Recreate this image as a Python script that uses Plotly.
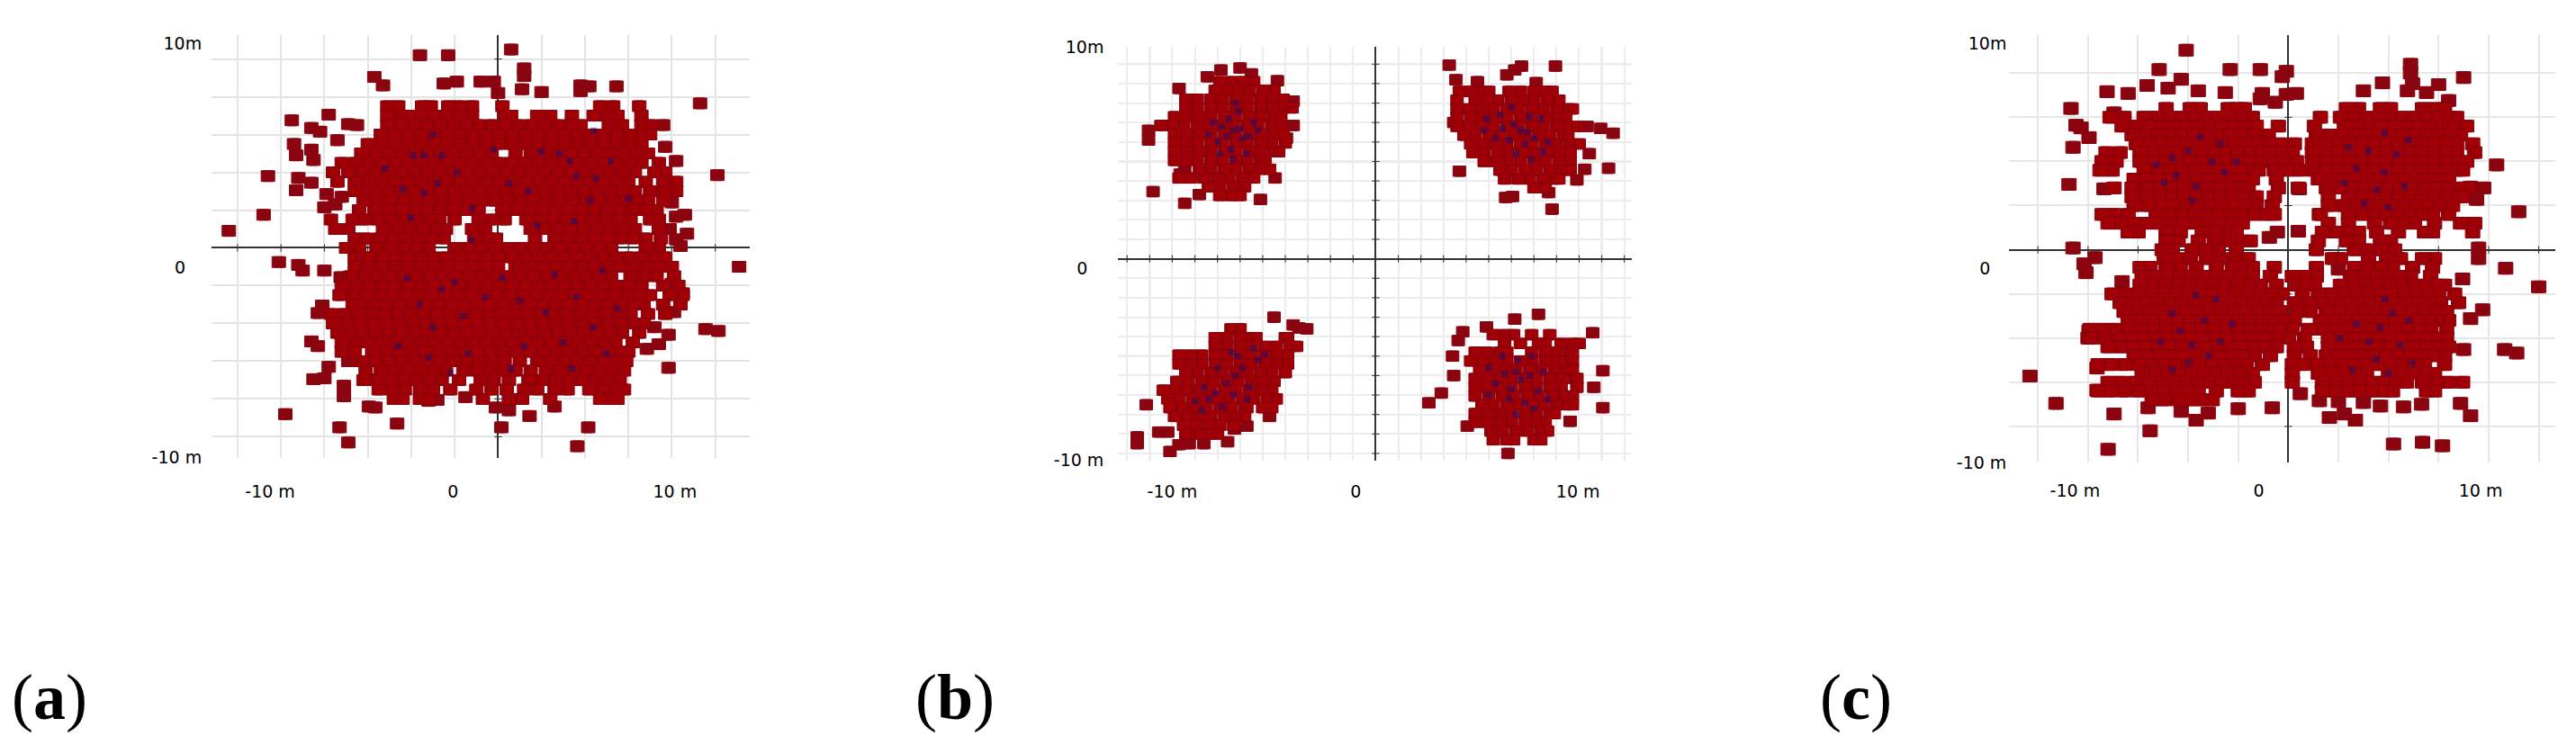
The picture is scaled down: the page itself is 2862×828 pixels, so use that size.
import plotly.graph_objects as go

# ---------- values (metres) ----------
a_rows = [
 (7.5,[-5.1,-4.6,-3.5,-3.1,-2.3,-1.8,-1.2,0.2,4.7,5.3,6.5]),
 (7.0,[-5.1,-4.5,-4.1,-3.6,-3.0,-2.4,-1.8,-1.2,0.3,0.6,1.8,2.4,3.4,4.4,5.0,5.5,6.6]),
 (6.5,[-5.1,-4.5,-3.9,-3.3,-2.7,-2.1,-1.5,-0.9,-0.3,0.3,0.9,1.5,2.1,2.7,3.3,3.8,5.1,5.7,6.6,7.0]),
 (6.0,[-5.4,-4.8,-4.2,-3.6,-3.0,-2.4,-1.8,-1.2,-0.6,0.0,0.6,1.2,1.8,2.4,3.0,3.6,4.2,4.8,5.4,6.0,6.6,7.0]),
 (5.5,[-6.0,-5.4,-4.8,-4.2,-3.6,-3.0,-2.4,-1.8,-1.2,-0.6,0.0,0.6,1.2,1.8,2.4,3.0,3.6,4.2,4.8,5.4,6.0,6.6]),
 (5.0,[-6.3,-5.7,-5.1,-4.5,-3.9,-3.3,-2.7,-2.1,-1.5,-0.9,-0.3,0.8,1.5,2.1,2.7,3.3,3.9,4.5,5.1,5.7,6.3,6.9]),
 (4.5,[-7.2,-6.6,-6.0,-5.4,-4.8,-4.2,-3.6,-3.0,-2.4,-1.8,-1.2,-0.6,0.0,0.6,1.2,1.8,2.4,3.0,3.6,4.2,4.8,5.4,6.0,6.6,7.4]),
 (4.0,[-7.6,-6.9,-6.3,-5.7,-5.1,-4.5,-3.9,-3.3,-2.7,-2.1,-1.5,-0.9,-0.3,0.3,0.9,1.5,2.1,2.7,3.3,3.9,4.5,5.1,5.7,6.3,7.2,7.7]),
 (3.5,[-7.4,-6.6,-6.0,-5.4,-4.8,-4.2,-3.6,-3.0,-2.4,-1.8,-1.2,-0.6,0.0,0.6,1.2,1.8,2.4,3.0,3.6,4.2,4.8,5.4,6.0,6.8,7.6,8.2]),
 (3.0,[-6.6,-6.1,-5.7,-5.1,-4.5,-3.9,-3.3,-2.7,-2.1,-1.5,-0.9,-0.3,0.3,0.9,1.5,2.1,2.7,3.3,3.9,4.5,5.1,5.7,6.3,7.0,7.6,8.2]),
 (2.5,[-6.2,-5.6,-5.0,-4.4,-3.8,-3.2,-2.6,-2.0,-1.4,-0.8,-0.2,0.4,1.0,1.6,2.2,2.8,3.4,4.0,4.6,5.2,5.8,6.4,6.9,7.6]),
 (2.0,[-6.4,-5.7,-5.1,-4.5,-3.9,-3.3,-2.7,-2.1,-1.5,-0.9,0.2,0.8,1.4,2.0,2.6,3.2,3.8,4.4,5.0,5.6,6.2,6.8,7.3]),
 (1.5,[-7.7,-6.7,-6.2,-5.6,-5.0,-4.4,-3.8,-3.2,-2.7,-2.0,-0.9,-0.3,0.3,1.3,1.9,2.5,3.1,3.7,4.3,4.9,5.5,6.1,7.0,7.4]),
 (1.0,[-7.5,-6.9,-5.3,-4.7,-4.1,-3.5,-2.9,-2.4,-1.2,-0.6,1.5,2.1,2.7,3.3,3.9,4.5,5.1,5.7,6.3,7.4]),
 (0.5,[-6.6,-6.1,-5.5,-4.9,-4.3,-3.7,-3.1,-2.5,-1.1,-0.5,-0.1,1.7,2.6,3.2,3.8,4.4,5.0,5.6,6.2,6.8,7.5]),
 (0.0,[-7.0,-6.4,-5.6,-5.0,-4.4,-3.8,-3.2,-2.0,-1.4,-0.8,-0.2,0.4,1.0,1.6,2.2,2.8,3.4,4.0,4.6,5.2,6.8,7.4]),
 (-0.5,[-6.6,-6.0,-5.4,-4.8,-4.2,-3.6,-3.0,-2.4,-1.8,-1.2,-0.6,0.0,0.6,1.2,1.8,2.4,3.0,3.6,4.2,4.8,5.4,6.0,6.6,7.2,7.7]),
 (-1.0,[-6.6,-6.0,-5.4,-4.8,-4.2,-3.6,-3.0,-2.4,-1.8,-1.2,-0.6,0.0,0.8,1.4,2.0,2.6,3.2,3.8,4.4,5.0,5.6,6.2,6.8,7.4,8.0]),
 (-1.5,[-6.8,-6.2,-5.6,-5.0,-4.4,-3.8,-3.2,-2.6,-2.0,-1.4,-0.8,-0.2,0.4,1.0,1.6,2.2,2.8,3.4,4.0,4.6,5.2,6.1,6.7,7.3,8.1]),
 (-2.0,[-7.2,-6.6,-6.0,-5.4,-4.8,-4.2,-3.6,-3.0,-2.4,-1.8,-1.2,-0.6,0.0,0.6,1.2,1.8,2.4,3.0,3.6,4.2,4.8,5.4,6.0,6.6,7.6,8.3]),
 (-2.5,[-7.3,-6.7,-6.1,-5.5,-4.9,-4.3,-3.7,-3.1,-2.5,-1.9,-1.3,-0.7,-0.1,0.5,1.1,1.7,2.3,2.9,3.5,4.1,4.7,5.3,5.9,6.5,7.0,7.9,8.5]),
 (-3.0,[-6.7,-6.4,-5.8,-5.2,-4.6,-4.0,-3.4,-2.8,-2.2,-1.6,-1.0,-0.4,0.2,0.8,1.4,2.0,2.6,3.2,3.8,4.4,5.0,5.6,6.2,6.7,7.6,8.4]),
 (-3.5,[-7.7,-7.1,-6.5,-5.9,-5.3,-4.7,-4.1,-3.5,-2.9,-2.3,-1.7,-1.1,-0.5,0.1,0.7,1.3,1.9,2.5,3.1,3.7,4.3,4.9,5.5,6.1,6.9,7.7]),
 (-4.0,[-7.6,-7.0,-6.4,-5.8,-5.2,-4.6,-4.0,-3.4,-2.8,-2.2,-1.6,-1.0,-0.4,0.2,0.8,1.4,2.0,2.6,3.2,3.8,4.4,5.0,5.6,6.2,6.7]),
 (-4.5,[-7.4,-6.9,-6.3,-5.7,-5.1,-4.5,-3.9,-3.3,-2.7,-2.1,-1.5,-0.9,-0.3,0.3,0.9,1.5,2.1,2.7,3.3,3.9,4.5,5.1,5.7,6.5]),
 (-5.0,[-7.2,-6.6,-6.0,-5.4,-4.8,-4.2,-3.6,-3.0,-2.4,-1.8,-1.2,-0.6,0.0,0.6,1.2,1.8,2.4,3.0,3.6,4.2,4.8,5.4,6.2]),
 (-5.5,[-7.2,-6.6,-5.8,-5.2,-4.6,-4.0,-3.4,-2.8,-2.2,-1.6,-1.0,-0.4,0.2,0.8,1.4,2.0,2.6,3.2,3.8,4.4,5.0,5.6,6.0]),
 (-6.0,[-6.3,-5.7,-5.1,-4.5,-3.9,-3.3,-2.7,-2.1,-1.5,-0.9,-0.3,0.3,1.0,1.8,2.4,3.0,3.6,4.2,4.8,5.4,5.9]),
 (-6.5,[-6.1,-5.4,-4.8,-4.2,-3.6,-3.0,-2.4,-1.6,-1.0,-0.4,0.2,0.8,1.5,2.2,2.8,3.4,4.0,4.6,5.2,5.8]),
 (-7.0,[-6.2,-5.6,-5.0,-4.4,-3.8,-3.2,-2.6,-1.8,-0.8,-0.2,0.5,1.4,2.0,2.6,3.2,3.8,4.4,5.0,5.6]),
 (-7.5,[-5.5,-4.9,-4.3,-3.6,-3.0,-2.2,-1.0,-0.3,0.4,1.2,1.8,2.6,3.2,4.2,4.8,5.4,5.8]),
 (-8.0,[-4.8,-4.4,-3.6,-3.2,-0.7,0.5,1.1,2.4,4.7,5.2,5.5]),
]
a_out = [(-3.6,10.2),(-2.3,10.2),(0.6,10.5),(1.2,9.5),(1.2,9.1),(-5.7,9.05),(-5.3,8.6),(-2.5,8.7),(-1.9,8.8),
 (-0.8,8.8),(-0.2,8.8),(1.1,8.4),(2.0,8.25),(3.8,8.6),(4.2,8.55),(3.8,8.3),(5.45,8.55),(0.0,8.2),(9.3,7.65),
 (-7.8,7.05),(-9.5,6.75),(-8.6,6.35),(-8.2,6.15),(-6.9,6.55),(-6.5,6.5),(7.6,6.5),(-9.4,5.5),(-8.6,5.2),(-9.3,4.9),
 (-8.5,4.65),(-7.4,5.7),(7.7,5.35),(8.2,4.6),(-10.6,3.8),(10.1,3.85),(-9.2,3.7),(-8.6,3.45),(-9.3,3.05),(-7.9,2.85),
 (-7.2,2.7),(-8.0,2.15),(-7.5,2.3),(-10.8,1.75),(-12.4,0.9),(8.6,1.75),(8.2,1.65),(8.0,2.4),(8.7,0.75),(8.2,0.45),
 (-10.1,-0.75),(-9.2,-0.9),(-9.0,-1.2),(11.1,-1.0),(-8.0,-1.2),(-7.25,-1.55),(9.55,-4.3),(10.15,-4.4),(7.85,-4.6),
 (7.85,-6.35),(7.4,-5.1),(6.85,-5.35),(-8.1,-3.05),(-8.3,-3.45),(-8.6,-4.95),(-8.3,-5.2),(-7.8,-6.3),(-8.5,-6.95),
 (-8.0,-6.9),(-7.1,-7.3),(-7.1,-7.85),(-5.95,-8.4),(-5.65,-8.45),(-9.8,-8.8),(-7.3,-9.5),(-4.65,-9.3),(-6.9,-10.3),
 (-1.5,-7.9),(-3.2,-8.1),(-2.8,-8.05),(-0.1,-8.45),(0.5,-8.6),(1.45,-8.9),(2.6,-8.4),(0.15,-9.5),(4.15,-9.5),(3.65,-10.5),
 (8.5,-2.4),(8.1,-3.4),(8.0,-1.9),(7.2,-4.2),(-6.9,-6.0),(-5.9,-6.95),(8.4,0.1),(7.9,1.0)]
a_navy = [(-3.9,4.9),(-3.4,4.9),(-2.6,4.9),(-1.9,4.0),(-2.8,3.4),(-4.4,3.1),(-0.2,5.2),(2.0,5.1),(2.8,5.0),(3.3,4.6),
 (3.6,3.8),(4.5,3.7),(1.4,3.0),(-3.4,2.9),(-1.2,2.1),(-4.0,1.6),(3.5,1.4),(4.2,2.5),(5.2,4.6),(0.5,3.4),
 (-2.6,-2.2),(-3.6,-3.0),(-2.0,-1.8),(-1.6,-3.6),(-3.0,-4.2),(-0.6,-2.6),(1.0,-2.8),(2.2,-3.4),(3.6,-2.6),(5.5,-3.2),
 (4.4,-4.2),(3.0,-5.0),(1.2,-5.2),(-1.4,-5.6),(-3.2,-5.8),(-4.2,-1.6),(4.8,-1.2),(2.6,-1.4),(0.2,-1.6),(-1.2,0.4),
 (-4.6,-5.2),(5.0,-5.6),(3.4,-6.4),(-2.2,-6.6),(0.6,-6.4),(-5.2,4.2),(6.0,2.6),(1.8,1.2),(-3.0,6.0),(4.4,6.2)]

b_rows = [
 (9.1,[-6.9,-6.4,-5.9,-5.4]),(8.65,[-7.1,-6.6,-6.1,-5.6,-5.0,-4.5]),
 (8.2,[-8.4,-7.9,-7.3,-6.8,-6.2,-5.7,-5.1,-4.6,-4.1]),(7.75,[-8.4,-7.9,-7.3,-6.8,-6.2,-5.7,-5.1,-4.6,-4.1,-3.7]),
 (7.3,[-8.9,-8.4,-7.8,-7.3,-6.7,-6.2,-5.6,-5.1,-4.5,-4.2]),(6.85,[-9.5,-9.0,-8.5,-7.9,-7.4,-6.8,-6.3,-5.7,-5.2,-4.6,-4.2]),
 (6.4,[-8.9,-8.4,-7.8,-7.3,-6.7,-6.2,-5.6,-5.1,-4.5,-4.1]),(5.95,[-8.9,-8.4,-7.9,-7.3,-6.8,-6.2,-5.7,-5.1,-4.6,-4.0]),
 (5.5,[-8.9,-8.4,-7.8,-7.3,-6.7,-6.2,-5.6,-5.1,-4.5,-4.3]),(5.05,[-8.9,-8.4,-7.9,-7.3,-6.8,-6.2,-5.7,-5.1,-4.9]),
 (4.6,[-7.8,-7.3,-6.7,-6.2,-5.6,-5.1,-4.7]),(4.15,[-8.7,-8.2,-7.6,-7.0,-6.5,-5.9,-5.4]),
 (3.7,[-7.4,-6.9,-6.3,-5.8]),(3.25,[-6.9,-6.4,-6.0]),
 (8.6,[3.7,4.2,4.7,5.0,5.9,6.4,7.0,7.5,7.8]),(8.15,[3.6,4.4,4.9,5.4,6.0,6.5,7.0,7.6,8.1]),
 (7.7,[3.6,4.1,4.7,5.2,5.8,6.3,6.9,7.4,8.0,8.5,8.7]),(7.25,[3.6,4.2,4.7,5.3,5.8,6.4,6.9,7.5,8.0,8.4]),
 (6.8,[3.6,4.1,4.7,5.2,5.8,6.3,6.9,7.4,8.0,8.5,8.9]),(6.35,[3.9,4.4,5.0,5.5,6.1,6.6,7.2,7.7,8.3,8.5]),
 (5.9,[4.2,4.7,5.3,5.8,6.4,6.9,7.5,8.0,8.6,9.0]),(5.45,[4.3,4.8,5.4,5.9,6.5,7.0,7.6,8.1,8.6]),
 (5.0,[4.8,5.3,5.9,6.4,7.0,7.5,8.1,8.6]),(4.55,[5.5,6.0,6.6,7.1,7.7,8.2,8.6]),
 (4.1,[5.7,6.3,6.8,7.4,7.9,8.1]),(3.65,[7.0,7.5]),
 (-3.6,[-6.4,-6.0]),(-4.05,[-7.1,-6.6,-6.0,-5.5,-5.3,-4.0,-3.9]),(-4.5,[-7.1,-6.6,-6.0,-5.5,-4.9,-4.4,-3.8,-3.5]),
 (-4.95,[-8.7,-8.2,-7.7,-7.1,-6.6,-6.0,-5.5,-4.9,-4.4,-3.9]),(-5.4,[-8.7,-8.2,-7.7,-7.1,-6.6,-6.0,-5.5,-4.9,-4.4,-3.9]),
 (-5.85,[-8.4,-7.9,-7.3,-6.8,-6.2,-5.7,-5.1,-4.6,-4.0]),(-6.3,[-8.8,-8.3,-7.7,-7.2,-6.6,-6.1,-5.5,-5.0,-4.5]),
 (-6.75,[-9.4,-8.9,-8.4,-7.8,-7.3,-6.7,-6.2,-5.6,-5.1,-4.6]),(-7.2,[-9.2,-8.7,-8.1,-7.6,-7.0,-6.5,-5.9,-5.4,-4.8,-4.4]),
 (-7.65,[-9.1,-8.6,-8.0,-7.5,-6.9,-6.4,-5.8,-5.7,-5.0,-4.6]),(-8.1,[-8.9,-8.4,-7.8,-7.3,-6.7,-6.2,-5.8]),
 (-8.55,[-8.5,-8.0,-7.4,-6.9,-6.3]),(-9.0,[-8.4,-7.8,-7.3,-7.0]),
 (-3.9,[5.2,5.7,6.1,6.9,7.7]),(-4.35,[5.7,6.4,7.2,7.5,8.2,8.7,9.0]),
 (-4.8,[4.4,4.9,5.5,5.8,6.9,7.5,8.0,8.6,8.7]),(-5.25,[4.2,4.7,5.3,5.8,6.4,6.9,7.5,8.0,8.6,8.7]),
 (-5.7,[4.6,5.1,5.7,6.2,6.8,7.3,7.9,8.4,8.7]),(-6.15,[4.4,4.9,5.5,6.0,6.6,7.1,7.7,8.2,8.8,8.9]),
 (-6.6,[4.4,4.9,5.5,6.0,6.6,7.1,7.7,8.2,8.9]),(-7.05,[4.4,5.0,5.6,6.1,6.7,7.2,7.8,8.3,8.7]),
 (-7.5,[4.7,5.2,5.8,6.3,6.9,7.4,8.0,8.5,8.7]),(-7.95,[4.4,4.9,5.5,6.0,6.6,7.1,7.7,7.9]),
 (-8.4,[4.4,4.9,5.5,6.0,6.6,7.1,7.5]),(-8.85,[5.1,5.6,6.2,6.7,7.3,7.6]),(-9.3,[5.2,5.8,6.1,7.0,7.3]),
]
b_out = [(-6.85,9.7),(-6.0,9.8),(-7.45,9.35),(-5.5,9.5),(-4.35,9.15),(-8.7,8.75),(-9.85,3.45),(-8.45,2.85),(-5.1,3.05),
 (-7.8,3.3),(-4.45,4.15),(-10.05,6.6),(-10.05,6.1),(-3.65,8.1),(-3.65,6.85),(-3.95,6.2),(-8.65,4.35),(-8.45,4.5),
 (3.25,9.95),(3.55,9.2),(4.5,9.1),(5.8,9.45),(6.15,9.7),(6.45,9.9),(7.95,9.9),(7.1,9.05),(10.5,6.45),(9.95,6.7),
 (9.35,6.8),(9.45,5.4),(10.3,4.65),(3.7,4.5),(5.75,3.15),(6.05,3.2),(7.65,3.4),(7.8,2.55),(8.9,4.05),(9.25,4.6),(3.45,7.0),
 (-4.5,-3.0),(-3.65,-3.4),(-3.05,-3.6),(-3.4,-3.55),(-10.15,-7.5),(-10.55,-9.15),(-10.55,-9.5),(-9.1,-9.9),(-8.7,-9.55),
 (-9.6,-8.9),(-9.2,-8.9),(-6.55,-9.4),(-7.6,-9.5),(-8.25,-9.5),(-4.7,-8.1),(-5.7,-8.6),(-6.25,-8.75),
 (7.2,-2.85),(6.15,-3.1),(9.6,-3.8),(3.85,-3.75),(3.65,-4.2),(4.9,-3.5),(10.05,-5.75),(10.05,-7.65),(3.4,-5.0),(3.45,-6.0),
 (2.9,-6.9),(2.35,-7.4),(4.05,-8.6),(5.85,-10.0),(7.15,-9.25),(8.6,-8.35),(9.65,-6.6)]
b_navy = [(-6.3,6.6),(-6.0,6.7),(-6.6,6.3),(-5.9,6.2),(-6.5,7.2),(-6.1,7.6),(-5.4,7.0),(-7.0,6.0),(-6.4,5.6),(-5.7,5.4),(-7.2,7.0),(-6.8,6.8),(-5.6,6.3),(-6.3,5.1),(-6.9,5.4),(-5.2,6.6),(-7.4,6.4),(-6.2,8.0),
 (6.4,6.6),(6.7,6.5),(6.1,6.9),(5.6,6.7),(7.0,6.2),(6.6,5.9),(5.9,6.1),(7.3,7.2),(6.8,7.3),(5.5,7.4),(4.9,7.2),(7.6,6.0),(6.2,5.4),(6.9,5.1),(7.4,5.5),(5.3,6.2),(4.8,6.6),(6.0,7.8),
 (-6.2,-6.0),(-6.6,-6.4),(-5.9,-5.6),(-6.1,-5.0),(-7.1,-6.9),(-7.4,-7.2),(-6.8,-7.6),(-7.7,-7.8),(-5.6,-6.6),(-5.2,-5.2),(-4.9,-4.9),(-6.4,-4.8),(-7.0,-5.6),(-5.4,-4.6),(-7.6,-6.6),(-6.3,-7.0),(-8.0,-7.3),(-5.7,-7.2),
 (6.2,-5.8),(6.4,-6.2),(6.0,-6.7),(6.8,-6.0),(6.3,-5.2),(5.7,-5.9),(5.3,-6.4),(5.9,-7.2),(6.6,-7.4),(7.2,-6.8),(7.4,-5.8),(6.9,-5.0),(5.6,-5.0),(5.0,-7.0),(6.2,-8.0),(7.0,-7.7),(7.6,-7.2),(5.0,-5.6)]

c_rows = [
 (8.0,[-6.1,-4.9,-4.4,-3.0,-2.6,-2.2,2.9,3.5,4.6,5.1,6.7,7.3,7.8]),
 (7.5,[-8.9,-8.2,-7.2,-6.6,-6.0,-5.4,-4.8,-4.2,-3.6,-3.0,-2.4,-1.8,1.6,2.6,3.2,3.8,4.4,5.0,5.6,6.2,6.8,7.4,8.0,8.4]),
 (7.0,[-8.3,-7.7,-7.0,-6.4,-5.8,-5.2,-4.6,-4.0,-3.4,-2.8,-2.2,-1.6,-0.5,1.3,2.8,3.4,4.0,4.6,5.2,5.8,6.4,7.0,7.6,8.2,8.9]),
 (6.5,[-7.8,-7.2,-6.6,-6.0,-5.4,-4.8,-4.2,-3.6,-3.0,-2.4,-1.8,-1.2,-1.0,1.4,2.0,2.6,3.2,3.8,4.4,5.0,5.6,6.2,6.8,7.4,8.0,8.6]),
 (6.0,[-7.6,-7.0,-6.4,-5.8,-5.2,-4.6,-4.0,-3.4,-2.8,-2.2,-1.6,-1.0,-0.4,0.3,1.2,1.8,2.4,3.0,3.6,4.2,4.8,5.4,6.0,6.6,7.2,7.8,8.4,9.2]),
 (5.5,[-9.1,-8.4,-7.4,-6.8,-6.2,-5.6,-5.0,-4.4,-3.8,-3.2,-2.6,-2.0,-1.4,-0.8,-0.4,0.2,1.2,1.8,2.4,3.0,3.6,4.2,4.8,5.4,6.0,6.6,7.2,7.8,8.4,9.3]),
 (5.0,[-9.3,-8.6,-7.4,-6.8,-6.2,-5.6,-5.0,-4.4,-3.8,-3.2,-2.6,-2.0,-1.4,-0.8,-0.3,0.4,1.2,1.8,2.4,3.0,3.6,4.2,4.8,5.4,6.0,6.6,7.2,7.8,8.4,8.9]),
 (4.5,[-9.4,-8.8,-7.2,-6.6,-6.0,-5.4,-4.8,-4.2,-3.6,-3.0,-2.4,-1.8,-1.5,-0.7,-0.1,0.5,1.2,1.8,2.4,3.0,3.6,4.2,4.8,5.4,6.0,6.6,7.2,7.8,8.4,8.7]),
 (4.0,[-7.7,-7.1,-6.5,-5.9,-5.3,-4.7,-4.1,-3.5,-2.9,-2.3,-1.8,-0.6,1.5,2.1,2.7,3.3,3.9,4.5,5.1,5.7,6.3,6.9,7.5,8.0]),
 (3.5,[-8.7,-7.8,-7.1,-6.5,-5.9,-5.3,-4.7,-4.1,-3.5,-2.9,-2.3,-2.0,-0.5,0.5,1.9,2.5,3.1,3.7,4.3,4.9,5.5,6.1,6.7,7.3,7.9,8.5,9.0]),
 (3.0,[-7.8,-7.1,-6.5,-5.9,-5.3,-4.7,-4.1,-3.5,-2.9,-2.3,-1.6,-0.7,2.0,3.0,3.6,4.2,4.8,5.4,6.0,6.6,7.2,7.8,8.4,8.7]),
 (2.5,[-7.7,-7.0,-6.4,-5.8,-5.2,-4.6,-4.0,-3.4,-2.8,-2.2,-1.6,-0.8,2.0,2.7,3.3,3.9,4.5,5.1,5.7,6.3,6.9,7.5,8.2]),
 (2.0,[-9.3,-8.7,-8.0,-6.6,-6.0,-5.4,-4.8,-4.2,-3.6,-3.0,-2.4,-1.8,-1.2,-0.7,1.6,3.0,3.6,4.2,4.8,5.4,6.0,6.6,7.2,8.0]),
 (1.5,[-9.0,-8.4,-7.8,-7.1,-6.5,-5.9,-5.3,-4.7,-4.1,-3.5,-2.9,-2.3,2.0,3.0,4.3,5.1,5.7,6.3,7.3,8.6,9.3]),
 (1.0,[-8.0,-7.5,-6.1,-5.4,-4.3,-3.7,-3.0,-2.6,1.7,2.4,3.0,3.5,4.4,5.5,6.8,7.2,9.2]),
 (0.5,[-6.1,-5.5,-4.5,-3.7,-3.0,-2.4,-1.9,1.5,2.9,3.5,4.6,5.1]),
 (0.0,[-6.3,-5.8,-4.8,-4.2,-3.5,-2.6,1.4,3.3,3.9,4.6,5.3]),
 (-0.5,[-6.2,-5.6,-4.9,-4.1,-3.4,-2.7,-2.0,2.2,2.6,4.0,4.9,5.6,6.7,7.3]),
 (-1.0,[-7.4,-6.9,-6.1,-5.4,-4.6,-3.6,-2.8,-2.2,-1.8,-0.7,1.4,3.3,3.9,4.6,5.2,6.2,7.2]),
 (-1.5,[-7.3,-6.7,-6.1,-5.5,-4.9,-4.3,-3.7,-3.1,-2.5,-1.8,-0.9,0.2,0.8,1.4,3.1,3.7,4.3,4.9,5.5,6.1,7.1]),
 (-2.0,[-7.4,-6.8,-6.2,-5.6,-5.0,-4.4,-3.8,-3.2,-2.6,-2.0,-1.4,-0.6,0.4,0.8,1.3,2.6,3.2,3.8,4.4,5.0,5.6,6.2,6.8,7.4,7.8]),
 (-2.5,[-8.8,-8.2,-7.5,-6.9,-6.3,-5.7,-5.1,-4.5,-3.9,-3.3,-2.7,-2.1,-1.5,-0.9,-0.3,0.7,1.5,2.1,2.7,3.3,3.9,4.5,5.1,5.7,6.3,6.9,7.5,8.3]),
 (-3.0,[-8.4,-7.8,-7.2,-6.6,-6.0,-5.4,-4.8,-4.2,-3.6,-3.0,-2.4,-1.8,-1.2,-0.6,0.3,1.0,1.6,2.2,2.8,3.4,4.0,4.6,5.2,5.8,6.4,7.0,7.6,8.5]),
 (-3.5,[-8.2,-7.6,-7.0,-6.4,-5.8,-5.2,-4.6,-4.0,-3.4,-2.8,-2.2,-1.6,-1.0,-0.4,0.4,1.1,1.9,2.5,3.1,3.7,4.3,4.9,5.5,6.1,6.7,7.3,7.9]),
 (-4.0,[-8.0,-7.4,-6.8,-6.2,-5.6,-5.0,-4.4,-3.8,-3.2,-2.6,-2.0,-1.4,-0.8,-0.3,0.3,1.6,2.2,2.8,3.4,4.0,4.6,5.2,5.8,6.4,7.0,7.6,8.0]),
 (-4.5,[-9.9,-9.3,-8.7,-8.0,-7.4,-6.8,-6.2,-5.6,-5.0,-4.4,-3.8,-3.2,-2.6,-2.0,-1.4,-0.8,-0.5,0.2,1.0,1.7,2.3,2.9,3.5,4.1,4.7,5.3,5.9,6.5,7.1,7.9]),
 (-5.0,[-9.9,-9.2,-8.5,-7.9,-7.3,-6.7,-6.1,-5.5,-4.9,-4.3,-3.7,-3.1,-2.5,-1.9,-1.3,-0.6,0.0,0.8,2.0,2.6,3.2,3.8,4.4,5.0,5.6,6.2,6.8,7.4,7.9]),
 (-5.5,[-9.0,-8.4,-7.8,-7.2,-6.6,-6.0,-5.4,-4.8,-4.2,-3.6,-3.0,-2.4,-1.8,-1.2,-0.6,0.3,0.9,2.0,2.6,3.2,3.8,4.4,5.0,5.6,6.2,6.8,7.4,8.0]),
 (-6.0,[-7.7,-7.1,-6.5,-5.9,-5.3,-4.7,-4.1,-3.5,-2.9,-2.3,-1.7,-0.9,0.3,1.1,1.9,2.4,3.0,3.6,4.2,4.8,5.4,6.0,6.6,7.2,7.8]),
 (-6.5,[-9.5,-8.9,-8.2,-7.5,-6.9,-6.3,-5.7,-5.1,-4.5,-3.9,-3.3,-2.7,-2.1,-1.3,0.2,0.7,1.4,2.0,2.6,3.2,3.8,4.4,5.0,5.6,6.2,6.8,7.8]),
 (-7.0,[-7.3,-6.7,-6.1,-5.5,-4.9,-4.3,-3.7,-3.1,-2.5,-1.8,0.2,1.5,2.1,2.7,3.3,3.9,5.0,5.6,6.2,6.8,7.3]),
 (-7.5,[-9.0,-8.4,-7.7,-7.0,-6.4,-5.8,-5.2,-4.6,-4.0,-3.4,-2.8,-2.2,-1.7,0.2,1.7,2.3,2.9,3.5,4.1,4.7,5.3,5.9,6.7,7.4,8.0,8.7]),
 (-8.0,[-9.5,-8.9,-8.2,-7.5,-6.9,-6.3,-5.7,-5.1,-4.5,-3.6,-2.5,-2.0,1.7,2.3,2.9,3.5,4.1,4.7,5.2,6.9,7.3]),
 (-8.5,[-6.8,-6.2,-5.5,-4.9,-4.3,-3.8]),
]
c_out = [(-5.1,11.3),(-6.45,10.2),(-2.9,10.2),(-1.4,10.2),(-0.1,10.1),(-0.3,9.8),(-5.35,9.65),(-7.05,9.3),(-6.0,9.15),
 (-9.05,8.95),(-8.0,8.85),(-4.5,9.0),(-3.15,8.9),(-1.3,8.85),(-1.4,8.55),(-0.65,8.35),(-0.1,8.8),(0.4,8.85),(6.1,10.5),(6.1,10.0),
 (4.7,9.45),(3.75,9.0),(8.75,9.75),(7.5,9.35),(6.2,9.4),(5.95,9.0),(6.9,8.9),(8.0,8.45),(-10.85,8.0),(-10.6,7.05),(-10.35,6.9),
 (-9.95,6.35),(-10.75,5.8),(-8.7,7.75),(10.4,4.8),(-10.95,3.7),(-9.2,3.45),(11.5,2.15),(9.4,2.85),(9.75,3.5),(9.1,3.55),
 (-10.75,0.1),(-9.65,-0.45),(-10.2,-0.8),(-10.1,-1.3),(-8.3,-1.8),(10.85,-1.05),(9.5,0.1),(9.5,-0.5),(8.7,-1.65),(12.5,-2.1),
 (9.7,-3.4),(9.1,-3.9),(8.75,-5.65),(10.8,-5.65),(11.4,-5.85),(-12.9,-7.15),(-11.6,-8.7),(-8.7,-9.3),(-6.9,-10.25),(-9.0,-11.3),
 (5.25,-11.0),(6.7,-10.9),(7.7,-11.1),(2.05,-9.5),(2.8,-9.3),(3.35,-9.65),(8.6,-8.7),(9.1,-9.4),(-0.8,-8.95),(-2.5,-9.0),
 (-4.6,-9.65),(-4.0,-9.25),(-5.35,-9.15),(-7.0,-8.95),(0.6,-8.15),(1.55,-8.55),(2.5,-8.6),(3.75,-8.65),(4.6,-8.85),(5.75,-8.9),
 (6.65,-8.75),(-9.55,-6.7),(-9.55,-7.95),(-8.9,-7.95),(-9.95,-4.6),(-10.0,-5.0),(-0.95,0.7),(-0.55,1.0),(0.5,1.05),(1.55,2.0),
 (2.5,-1.1),(0.55,3.45),(0.4,4.6)]
c_navy = [(-5.0,5.6),(-4.4,6.4),(-3.8,5.0),(-5.6,4.2),(-4.6,3.6),(-3.2,4.4),(-6.2,3.8),(-4.8,2.8),(-3.4,6.0),(-2.6,5.0),(-5.8,5.2),(-6.6,4.8),
 (4.0,5.6),(4.8,4.4),(5.4,5.4),(3.4,4.6),(4.4,3.4),(5.8,3.6),(3.0,5.8),(6.0,6.2),(4.8,6.6),(3.8,2.6),(5.0,2.4),(2.8,3.8),
 (-5.4,-4.6),(-4.8,-5.4),(-5.8,-3.6),(-4.2,-4.0),(-3.4,-5.2),(-5.0,-6.4),(-3.6,-2.8),(-6.4,-5.2),(-4.6,-2.6),(-2.8,-4.2),(-5.8,-6.8),(-4.0,-6.0),
 (4.6,-4.4),(4.0,-5.2),(5.2,-3.6),(3.4,-4.2),(5.6,-5.4),(4.4,-6.2),(3.2,-6.8),(5.0,-7.0),(2.6,-5.0),(6.0,-4.0),(4.8,-2.8),(6.2,-6.4)]

a_gridx = [-12,-10,-8,-6,-4,-2,0,2,4,6,8,10]
a_gridy = [-10,-8,-6,-4,-2,0,2,4,6,8,10]
b_gridx = [-11,-10,-9,-8,-7,-6,-5,-4,-3,-2,-1,0,1,2,3,4,5,6,7,8,9,10,11]
b_gridy = [-10,-9,-8,-7,-6,-5,-4,-3,-2,-1,0,1,2,3,4,5,6,7,8,9,10]
b_dark = [-10,-5,5,10]
c_gridx = [-12.5,-10,-7.5,-5,-2.5,0,2.5,5,7.5,10,12.5]
c_gridy = [-10,-7.5,-5,-2.5,0,2.5,5,7.5,10]

x_labels = ["-10 m", "0", "10 m"]
y_labels = ["-10 m", "0\u00a0\u00a0\u00a0", "10m"]
captions = ["(<b>a</b>)", "(<b>b</b>)", "(<b>c</b>)"]

# ---------- layout (pixels of the 2862x828 page) ----------
W, H = 2862, 828
panels = [
 dict(rows=a_rows, out=a_out, navy=a_navy, gx=a_gridx, gy=a_gridy, dark=[],
      box=(235.2,833,28.6,510.5), xr=(-13.19,11.59), yr=(-11.1,11.27), xt=[-10.5,-2.08,8.14], yt=[-11.09,-1.06,10.8],
      mh=13, mw=16, xoff=24, yoff=10, gw=2, gc="#e4e4e4", cap=(11,784)),
 dict(rows=b_rows, out=b_out, navy=b_navy, gx=b_gridx, gy=b_gridy, dark=b_dark,
      box=(1242.4,1812.5,42.1,514), xr=(-11.39,11.31), yr=(-10.37,10.89), xt=[-9.0,-0.88,8.95], yt=[-10.36,-0.48,10.88],
      mh=12.5, mw=15, xoff=21, yoff=15, gw=1.5, gc="#ececec", cap=(1015,784)),
 dict(rows=c_rows, out=c_out, navy=c_navy, gx=c_gridx, gy=c_gridy, dark=[],
      box=(2232.4,2838.6,28.6,516.6), xr=(-13.93,13.31), yr=(-12.07,12.16), xt=[-10.65,-1.48,9.6], yt=[-12.05,-1.06,11.67],
      mh=14, mw=17, xoff=18, yoff=2, gw=2, gc="#e6e6e6", cap=(2020,784)),
]

fig = go.Figure()
layout = dict(width=W, height=H, margin=dict(l=0,r=0,t=0,b=0), paper_bgcolor="white", plot_bgcolor="white",
              showlegend=False, autosize=False, shapes=[], annotations=[])
tfont = dict(family="DejaVu Sans", size=19, color="#000000")

for i, p in enumerate(panels, start=1):
    sx = "" if i == 1 else str(i)
    x0, x1, y0, y1 = p["box"]
    layout["xaxis"+sx] = dict(domain=[x0/W, x1/W], range=list(p["xr"]), anchor="y"+sx, tickmode="array",
        tickvals=p["xt"], ticktext=x_labels, showgrid=False, zeroline=True, zerolinecolor="#333333", zerolinewidth=2,
        showline=False, ticks="", tickfont=tfont, ticklabelstandoff=p["xoff"], tickangle=0,
        minor=dict(tickmode="array", tickvals=p["gx"], showgrid=True, gridcolor=p["gc"], gridwidth=p["gw"], ticks=""))
    layout["yaxis"+sx] = dict(domain=[1-y1/H, 1-y0/H], range=list(p["yr"]), anchor="x"+sx, tickmode="array",
        tickvals=p["yt"], ticktext=y_labels, showgrid=False, zeroline=True, zerolinecolor="#333333", zerolinewidth=2,
        showline=False, ticks="", tickfont=tfont, ticklabelstandoff=p["yoff"],
        minor=dict(tickmode="array", tickvals=p["gy"], showgrid=True, gridcolor=p["gc"], gridwidth=p["gw"], ticks=""))
    for v in p["dark"]:
        layout["shapes"].append(dict(type="line", layer="below", xref="x"+sx, yref="y"+sx+" domain", x0=v, x1=v, y0=0, y1=1,
                                     line=dict(color="#d2d2d2", width=2)))
        layout["shapes"].append(dict(type="line", layer="below", xref="x"+sx+" domain", yref="y"+sx, x0=0, x1=1, y0=v, y1=v,
                                     line=dict(color="#d2d2d2", width=2)))
    xa, ya = "x"+sx, "y"+sx
    fig.add_trace(go.Scatter(x=p["gx"], y=[0]*len(p["gx"]), mode="markers", xaxis=xa, yaxis=ya, hoverinfo="skip",
                             marker=dict(symbol="line-ns", size=6, line=dict(color="#333333", width=1))))
    fig.add_trace(go.Scatter(x=[0]*len(p["gy"]), y=p["gy"], mode="markers", xaxis=xa, yaxis=ya, hoverinfo="skip",
                             marker=dict(symbol="line-ew", size=6, line=dict(color="#333333", width=1))))
    # the source markers are wider than tall: each point is drawn as two overlapping squares
    px_per_m = (x1 - x0) / (p["xr"][1] - p["xr"][0])
    shift = (p["mw"] - p["mh"]) / 2 / px_per_m
    ox = [q[0] for q in p["out"]]; oy = [q[1] for q in p["out"]]
    cx = [x for yv, xs in p["rows"] for x in xs]; cy = [yv for yv, xs in p["rows"] for x in xs]
    for s in (-shift, shift):
        fig.add_trace(go.Scatter(x=[v + s for v in ox], y=oy, mode="markers", xaxis=xa, yaxis=ya,
                                 marker=dict(symbol="square", size=p["mh"]-1, color="#8a0510", line=dict(color="#8a0510", width=1))))
    for s in (-shift, shift):
        fig.add_trace(go.Scatter(x=[v + s for v in cx], y=cy, mode="markers", xaxis=xa, yaxis=ya,
                                 marker=dict(symbol="square", size=p["mh"]-1, color="#a00006", line=dict(color="#86000c", width=1))))
    fig.add_trace(go.Scatter(x=[q[0] for q in p["navy"]], y=[q[1] for q in p["navy"]], mode="markers", xaxis=xa, yaxis=ya,
                             marker=dict(symbol="square", size=7, color="#1a1070", opacity=0.5, line=dict(width=0))))
    layout["annotations"].append(dict(xref="paper", yref="paper", x=p["cap"][0]/W, y=1-p["cap"][1]/H, xanchor="left", yanchor="middle",
                                      text=captions[i-1], showarrow=False,
                                      font=dict(family="Liberation Serif", size=72, color="black")))

fig.update_layout(**layout)
fig.write_html("out.html", config={"displayModeBar": False}, post_script="document.body.style.margin='0';")
